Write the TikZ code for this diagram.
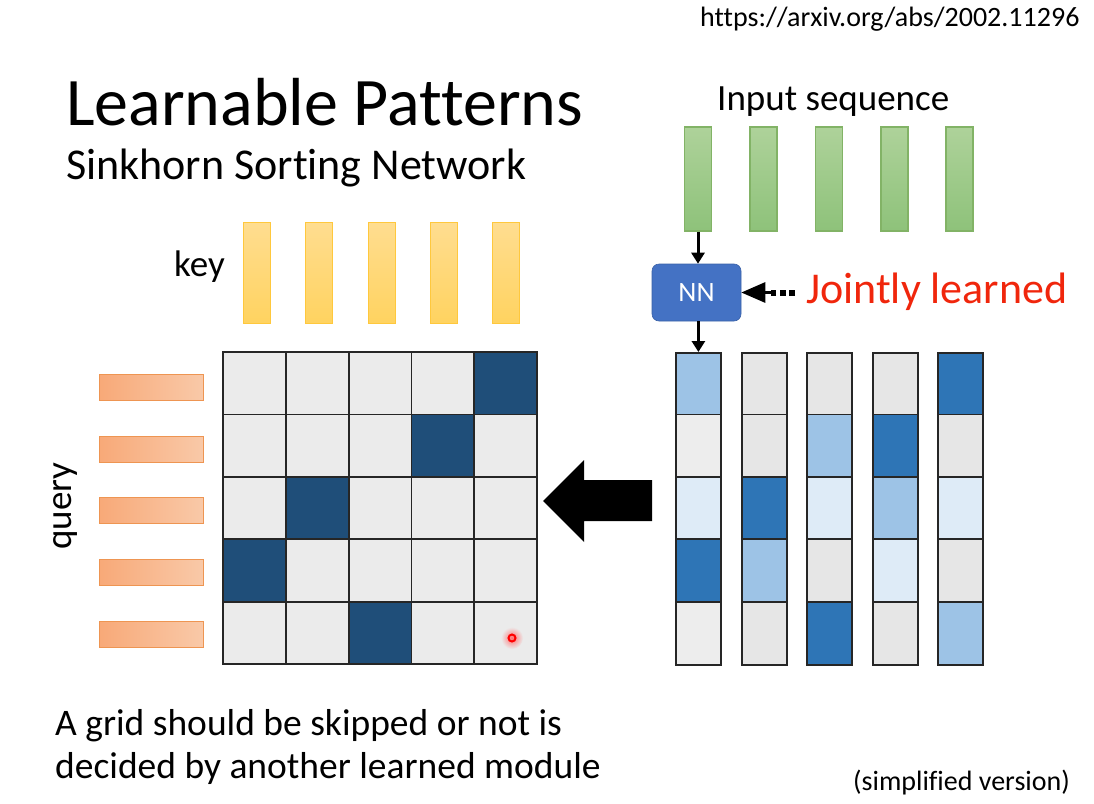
\documentclass[tikz,border=0pt]{standalone}
\usepackage{fontspec}
\setmainfont{Carlito}[Ligatures={NoCommon}]
\usetikzlibrary{arrows.meta}
\definecolor{gridlight}{HTML}{EBEBEB}
\definecolor{griddark}{HTML}{1F4E79}
\definecolor{bdark}{HTML}{2E75B6}
\definecolor{bmed}{HTML}{9DC3E6}
\definecolor{bvlight}{HTML}{DEEBF7}
\definecolor{bgrey}{HTML}{E6E6E6}
\definecolor{blgrey}{HTML}{EDEDED}
\definecolor{nnblue}{HTML}{4472C4}
\definecolor{redtxt}{HTML}{F0260C}
\definecolor{greentop}{HTML}{AED29A}
\definecolor{greenbot}{HTML}{8EC27A}
\definecolor{greenline}{HTML}{82B366}
\definecolor{yeltop}{HTML}{FFDD90}
\definecolor{yelbot}{HTML}{FFD360}
\definecolor{yelline}{HTML}{FFC83D}
\definecolor{orleft}{HTML}{F8A978}
\definecolor{orright}{HTML}{F9C9A8}
\definecolor{orline}{HTML}{EE9552}
\begin{document}
\begin{tikzpicture}[x=1pt,y=-1pt,
  greenbar/.style={rectangle, draw=greenline, line width=1.2pt, top color=greentop, bottom color=greenbot, minimum width=27pt, minimum height=104pt, inner sep=0pt},
  keybar/.style={rectangle, draw=yelline, line width=0.8pt, top color=yeltop, bottom color=yelbot, minimum width=27pt, minimum height=101pt, inner sep=0pt},
  querybar/.style={rectangle, draw=orline, line width=1pt, left color=orleft, right color=orright, minimum width=104pt, minimum height=26pt, inner sep=0pt},
  cellbox/.style={draw=black!85, line width=1.8pt},
  flowarrow/.style={line width=3pt, -{Triangle[length=11pt,width=13pt]}},
  txt/.style={inner sep=0pt, anchor=base west, text=black}
]
\useasboundingbox (0,0) rectangle (1094,803);

% texts
\node[txt, font=\fontsize{28}{32}\selectfont] (url) at (700,27) {https://arxiv.org/abs/2002.11296};
\node[txt, font=\fontsize{68}{78}\selectfont] (title) at (66,125) {Learnable Patterns};
\node[txt, font=\fontsize{44}{50}\selectfont] (sub) at (66,179) {Sinkhorn Sorting Network};
\node[txt, font=\fontsize{37}{42}\selectfont] (inseq) at (717,110) {Input sequence};
\node[txt, font=\fontsize{37}{42}\selectfont] (key) at (174,276) {key};
\node[txt, font=\fontsize{37}{42}\selectfont, rotate=90] (query) at (71,550) {query};
\node[txt, font=\fontsize{44}{50}\selectfont, text=redtxt] (joint) at (806,303) {Jointly learned};
\node[txt, font=\fontsize{37.5}{42}\selectfont] (bot1) at (55,735) {A grid should be skipped or not is};
\node[txt, font=\fontsize{37.5}{42}\selectfont] (bot2) at (55,778) {decided by another learned module};
\node[txt, font=\fontsize{28}{32}\selectfont] (simp) at (853,790) {(simplified version)};

% green input bars
\foreach \i/\x in {1/698,2/763.5,3/829,4/894.5,5/959.5}
  \node[greenbar] (g\i) at (\x,179) {};

% key bars
\foreach \i/\x in {1/256.5,2/318.5,3/381.5,4/443.5,5/505.5}
  \node[keybar] (k\i) at (\x,272.5) {};

% query bars
\foreach \i/\y in {1/387.5,2/449,3/510.5,4/572,5/634}
  \node[querybar] (q\i) at (151,\y) {};

% NN box
\node[rectangle, rounded corners=7pt, fill=nnblue, draw=nnblue!85!black, line width=0.6pt, minimum width=89pt, minimum height=57pt, text=white, font=\fontsize{28}{32}\selectfont] (nn) at (696.5,292.5) {NN};

% left attention grid
\foreach \r in {1,...,5}{
  \foreach \c in {1,...,5}{
    \pgfmathsetmacro{\xa}{223+62.8*(\c-1)}
    \pgfmathsetmacro{\ya}{352+62.4*(\r-1)}
    \fill[gridlight] (\xa,\ya) rectangle ++(62.8,62.4);
  }
}
\foreach \r/\c in {1/5,2/4,3/2,4/1,5/3}{
  \pgfmathsetmacro{\xa}{223+62.8*(\c-1)}
  \pgfmathsetmacro{\ya}{352+62.4*(\r-1)}
  \fill[griddark] (\xa,\ya) rectangle ++(62.8,62.4);
}
\foreach \k in {0,...,5}{
  \draw[cellbox, line cap=rect] (223+62.8*\k,352) -- (223+62.8*\k,664);
  \draw[cellbox, line cap=rect] (223,352+62.4*\k) -- (537,352+62.4*\k);
}
\node[minimum width=314pt, minimum height=312pt, inner sep=0pt] (grid) at (380,508) {};

% laser dot
\shade[inner color=red!55, outer color=gridlight] (512,638) circle (11);
\draw[red, line width=2pt] (512,638) circle (3.5);

% right sorting columns
\foreach \c/\x/\a/\b/\cc/\d/\e in {
  1/675/bmed/blgrey/bvlight/bdark/blgrey,
  2/741/bgrey/bgrey/bdark/bmed/bgrey,
  3/806/bgrey/bmed/bvlight/bgrey/bdark,
  4/872/bgrey/bdark/bmed/bvlight/bgrey,
  5/937/bdark/bgrey/bvlight/bgrey/bmed}{
  \fill[\a] (\x,352) rectangle ++(45,62.4);
  \fill[\b] (\x,414.4) rectangle ++(45,62.4);
  \fill[\cc] (\x,476.8) rectangle ++(45,62.4);
  \fill[\d] (\x,539.2) rectangle ++(45,62.4);
  \fill[\e] (\x,601.6) rectangle ++(45,62.4);
  \foreach \k in {1,...,4}
    \draw[cellbox] (\x,352+62.4*\k) -- ++(45,0);
  \node[draw=black!85, line width=1.8pt, minimum width=45pt, minimum height=312pt, inner sep=0pt, anchor=north west] (col\c) at (\x,352) {};
}

% connectors
\draw[flowarrow] (g1.south) -- (g1.south |- nn.north);
\draw[flowarrow] (col1.north |- nn.south) -- (col1.north);
\draw[line width=6pt, dash pattern=on 6pt off 3.5pt] (joint.west |- nn.east) ++(-11,0) -- ++(-24,0) coordinate (dend);
\draw[line width=3pt, -{Triangle[length=24pt,width=20pt]}] (dend) -- (nn.east);

% big black arrow
\fill[black] (543,501) -- (584,460) -- (584,480) -- (652,480) -- (652,521) -- (584,521) -- (584,542) -- cycle;
\end{tikzpicture}
\end{document}
